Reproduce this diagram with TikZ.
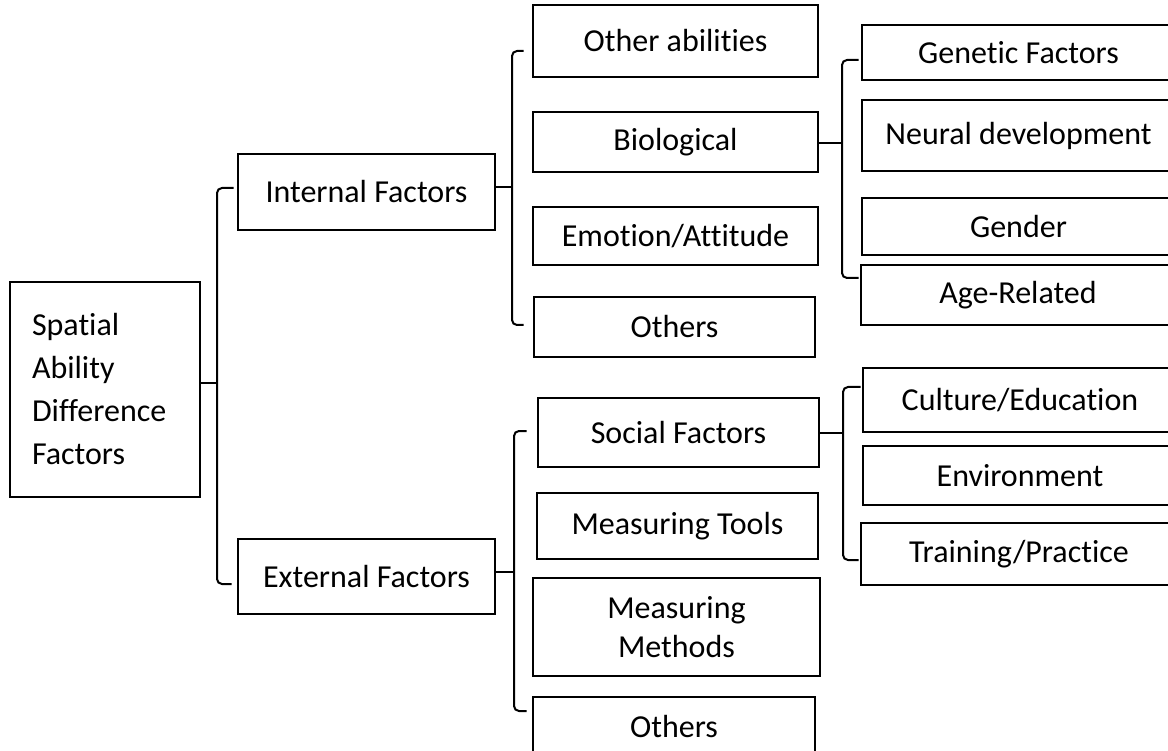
\documentclass[tikz,border=0pt]{standalone}
\usepackage{fontspec}
\setmainfont{Carlito}[Ligatures=CommonOff]
\usepackage{tikz}
\usetikzlibrary{positioning}
\tikzset {
  x=1pt, y=-1pt,
  % one factor in a box
  box/.style = {draw, rectangle, line width=2.8pt, inner sep=0pt, align=center,
    font=\fontsize{32}{39}\selectfont},
  % the leftmost box, text set flush left
  rootbox/.style = {box, text width=146pt, align=left,
    font=\fontsize{32}{43}\selectfont},
  % curly braces from a box to its sub-factors
  brace/.style = {line width=2pt, rounded corners=5pt},
}
\begin{document}
\begin{tikzpicture}
  \useasboundingbox (0,0) rectangle (1168,751);
  \clip (0,0) rectangle (1168,751);

  \node[rootbox, minimum width=190pt, minimum height=215pt] (root) at (105,389.5)
    {Spatial\\Ability\\Difference\\Factors};

  \node[box, minimum width=257pt, minimum height=76pt] (intl) at (366.5,192) {Internal Factors};
  \node[box, minimum width=257pt, minimum height=75pt] (extl) at (366.5,576.5) {External Factors};

  % internal factors
  \node[box, minimum width=285pt, minimum height=72pt] (abil) at (675.5,41) {Other abilities};
  \node[box, minimum width=285pt, minimum height=60pt] (bio) at (675.5,142) {Biological};
  \node[box, minimum width=285pt, minimum height=58pt] (emo) at (675.5,236) {Emotion/Attitude};
  \node[box, minimum width=281pt, minimum height=60pt] (othin) at (674.5,327) {Others};

  % external factors
  \node[box, minimum width=281pt, minimum height=69pt] (soc) at (678.5,432.5) {Social Factors};
  \node[box, minimum width=281pt, minimum height=66pt] (tool) at (677.5,526) {Measuring Tools};
  \node[box, minimum width=287pt, minimum height=98pt] (meth) at (676.5,627) {Measuring\\Methods};
  \node[box, minimum width=282pt, minimum height=59pt] (othex) at (674,726.5) {Others};

  % biological
  \node[box, minimum width=313pt, minimum height=55pt] (gen) at (1018.5,52.5) {Genetic Factors};
  \node[box, minimum width=313pt, minimum height=71pt] (neu) at (1018.5,135.5) {Neural development};
  \node[box, minimum width=313pt, minimum height=57pt] (gend) at (1018.5,226.5) {Gender};
  \node[box, minimum width=314pt, minimum height=60pt] (age) at (1018,295) {Age-Related};

  % social
  \node[box, minimum width=314pt, minimum height=64pt] (cult) at (1020,400) {Culture/Education};
  \node[box, minimum width=314pt, minimum height=59pt] (env) at (1020,475.5) {Environment};
  \node[box, minimum width=316pt, minimum height=62pt] (trn) at (1019,554) {Training/Practice};

  \coordinate (t1) at (217,383);
  \draw[brace] (root.east |- t1) -- (t1);
  \draw[brace] ([shift={(-3,-4)}]intl.west) -| (t1) |- ([shift={(-5,7.5)}]extl.west);

  \coordinate (t2) at (512,187);
  \draw[brace] (intl.east |- t2) -- (t2);
  \draw[brace] ([shift={(-8,10)}]abil.west) -| (t2) |- ([shift={(-9,-2)}]othin.west);

  \coordinate (t3) at (842,143);
  \draw[brace] (bio.east |- t3) -- (t3);
  \draw[brace] ([shift={(-2,7.5)}]gen.west) -| (t3) |- ([shift={(-1,-17)}]age.west);

  \coordinate (t4) at (514,572);
  \draw[brace] (extl.east |- t4) -- (t4);
  \draw[brace] ([shift={(-10,-1.5)}]soc.west) -| (t4) |- ([shift={(-5,-15.5)}]othex.west);

  \coordinate (t5) at (843,433);
  \draw[brace] (soc.east |- t5) -- (t5);
  \draw[brace] ([shift={(-1,-13)}]cult.west) -| (t5) |- ([shift={(-1,6)}]trn.west);
\end{tikzpicture}
\end{document}
